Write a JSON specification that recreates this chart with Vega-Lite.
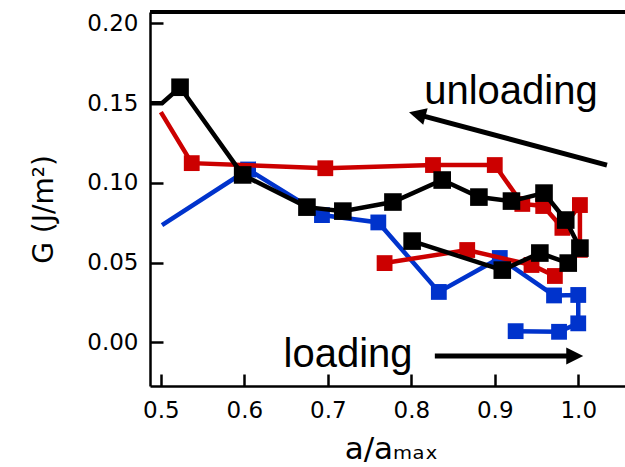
{
  "$schema": "https://vega.github.io/schema/vega-lite/v6.json",
  "width": 475,
  "height": 374,
  "autosize": {"type": "none"},
  "padding": {"left": 150, "top": 12, "right": 0, "bottom": 81},
  "background": "white",
  "config": {"view": {"stroke": null}, "font": "DejaVu Sans"},
  "datasets": {
    "curves": [
      {"s": "black", "i": 0, "x": 0.487, "y": 0.150},
      {"s": "black", "i": 1, "x": 0.5014, "y": 0.150},
      {"s": "black", "i": 2, "x": 0.523, "y": 0.160},
      {"s": "black", "i": 3, "x": 0.598, "y": 0.105},
      {"s": "black", "i": 4, "x": 0.675, "y": 0.0848},
      {"s": "black", "i": 5, "x": 0.718, "y": 0.0823},
      {"s": "black", "i": 6, "x": 0.778, "y": 0.088},
      {"s": "black", "i": 7, "x": 0.837, "y": 0.1018},
      {"s": "black", "i": 8, "x": 0.881, "y": 0.0911},
      {"s": "black", "i": 9, "x": 0.920, "y": 0.0886},
      {"s": "black", "i": 10, "x": 0.959, "y": 0.0936},
      {"s": "black", "i": 11, "x": 0.985, "y": 0.0767},
      {"s": "black", "i": 12, "x": 1.002, "y": 0.0591},
      {"s": "black", "i": 13, "x": 0.988, "y": 0.0497},
      {"s": "black", "i": 14, "x": 0.954, "y": 0.0560},
      {"s": "black", "i": 15, "x": 0.909, "y": 0.0453},
      {"s": "black", "i": 16, "x": 0.801, "y": 0.0635},
      {"s": "red", "i": 0, "x": 0.500, "y": 0.1444},
      {"s": "red", "i": 1, "x": 0.537, "y": 0.1124},
      {"s": "red", "i": 2, "x": 0.697, "y": 0.1092},
      {"s": "red", "i": 3, "x": 0.826, "y": 0.1112},
      {"s": "red", "i": 4, "x": 0.900, "y": 0.1112},
      {"s": "red", "i": 5, "x": 0.933, "y": 0.0868},
      {"s": "red", "i": 6, "x": 0.958, "y": 0.0855},
      {"s": "red", "i": 7, "x": 0.981, "y": 0.0718},
      {"s": "red", "i": 8, "x": 1.002, "y": 0.0861},
      {"s": "red", "i": 9, "x": 1.002, "y": 0.058},
      {"s": "red", "i": 10, "x": 0.972, "y": 0.0416},
      {"s": "red", "i": 11, "x": 0.944, "y": 0.0485},
      {"s": "red", "i": 12, "x": 0.867, "y": 0.0579},
      {"s": "red", "i": 13, "x": 0.768, "y": 0.0497},
      {"s": "blue", "i": 0, "x": 0.5014, "y": 0.0735},
      {"s": "blue", "i": 1, "x": 0.6045, "y": 0.1084},
      {"s": "blue", "i": 2, "x": 0.693, "y": 0.0798},
      {"s": "blue", "i": 3, "x": 0.7605, "y": 0.0752},
      {"s": "blue", "i": 4, "x": 0.833, "y": 0.0316},
      {"s": "blue", "i": 5, "x": 0.906, "y": 0.0529},
      {"s": "blue", "i": 6, "x": 0.971, "y": 0.0294},
      {"s": "blue", "i": 7, "x": 1.000, "y": 0.0297},
      {"s": "blue", "i": 8, "x": 1.000, "y": 0.0119},
      {"s": "blue", "i": 9, "x": 0.977, "y": 0.0066},
      {"s": "blue", "i": 10, "x": 0.925, "y": 0.0070}
    ],
    "arrows": [
      {"a": "unloading", "x": 0.8071, "y": 0.1430, "xt": 1.0344, "yt": 0.1112},
      {"a": "loading", "x": 0.9958, "y": -0.0086, "xt": 0.8282, "yt": -0.0086}
    ],
    "labels": [
      {"t": "unloading", "x": 0.9194, "y": 0.1492},
      {"t": "loading", "x": 0.7242, "y": -0.0153}
    ]
  },
  "encoding": {
    "x": {
      "field": "x", "type": "quantitative",
      "scale": {"domain": [0.487, 1.056], "nice": false, "zero": false},
      "axis": {
        "values": [0.5, 0.6, 0.7, 0.8, 0.9, 1.0], "format": ".1f",
        "grid": false, "tickSize": -12, "tickWidth": 2.5, "tickColor": "black",
        "domainWidth": 2.5, "domainColor": "black",
        "labelFontSize": 23, "labelColor": "black", "labelPadding": 25.6, "labelFlush": false,
        "labelFont": "DejaVu Sans",
        "title": "a/aₘₐₓ", "titleFont": "DejaVu Sans", "titleFontSize": 31, "titleFontWeight": "normal",
        "titleColor": "black", "titleBaseline": "alphabetic", "titleY": 72, "titleX": 241
      }
    },
    "y": {
      "field": "y", "type": "quantitative",
      "scale": {"domain": [-0.0274, 0.2072], "nice": false, "zero": false},
      "axis": {
        "values": [0, 0.05, 0.1, 0.15, 0.2], "format": ".2f",
        "grid": false, "tickSize": -13, "tickWidth": 2.5, "tickColor": "black",
        "domainWidth": 2.5, "domainColor": "black",
        "labelFontSize": 23, "labelColor": "black", "labelPadding": 25,
        "labelFont": "DejaVu Sans",
        "title": "G (J/m²)", "titleFont": "DejaVu Sans", "titleFontSize": 28, "titleFontWeight": "normal",
        "titleColor": "black", "titleBaseline": "alphabetic", "titleX": -98, "titleY": 197, "titleAngle": -90
      }
    }
  },
  "layer": [
    {
      "data": {"name": "curves"},
      "mark": {"type": "rule", "strokeWidth": 2.5, "color": "black"},
      "encoding": {
        "x": {"datum": 0.487, "type": "quantitative"},
        "x2": {"datum": 1.056},
        "y": {"datum": 0.2072, "type": "quantitative"}
      }
    },
    {
      "data": {"name": "curves"},
      "transform": [{"filter": "datum.s == 'blue'"}],
      "mark": {"type": "line", "color": "#0033cc", "strokeWidth": 4.5},
      "encoding": {"order": {"field": "i", "type": "quantitative"}}
    },
    {
      "data": {"name": "curves"},
      "transform": [{"filter": "datum.s == 'blue' && datum.i >= 1"}],
      "mark": {"type": "point", "shape": "square", "filled": true, "color": "#0033cc", "size": 250, "opacity": 1}
    },
    {
      "data": {"name": "curves"},
      "transform": [{"filter": "datum.s == 'red'"}],
      "mark": {"type": "line", "color": "#cc0000", "strokeWidth": 4.5},
      "encoding": {"order": {"field": "i", "type": "quantitative"}}
    },
    {
      "data": {"name": "curves"},
      "transform": [{"filter": "datum.s == 'red' && datum.i >= 1"}],
      "mark": {"type": "point", "shape": "square", "filled": true, "color": "#cc0000", "size": 250, "opacity": 1}
    },
    {
      "data": {"name": "curves"},
      "transform": [{"filter": "datum.s == 'black'"}],
      "mark": {"type": "line", "color": "black", "strokeWidth": 4.5},
      "encoding": {"order": {"field": "i", "type": "quantitative"}}
    },
    {
      "data": {"name": "curves"},
      "transform": [{"filter": "datum.s == 'black' && datum.i >= 2"}],
      "mark": {"type": "point", "shape": "square", "filled": true, "color": "black", "size": 310, "opacity": 1}
    },
    {
      "data": {"name": "arrows"},
      "mark": {"type": "rule", "strokeWidth": 5, "color": "black"},
      "encoding": {
        "x2": {"field": "xt"},
        "y2": {"field": "yt"}
      }
    },
    {
      "data": {"name": "arrows"},
      "transform": [{"filter": "datum.a == 'unloading'"}],
      "mark": {"type": "point", "shape": "M-1,0L1,-1L1,1Z", "filled": true, "color": "black", "size": 289, "angle": 15, "opacity": 1}
    },
    {
      "data": {"name": "arrows"},
      "transform": [{"filter": "datum.a == 'loading'"}],
      "mark": {"type": "point", "shape": "M-1,0L1,-1L1,1Z", "filled": true, "color": "black", "size": 289, "angle": 180, "opacity": 1}
    },
    {
      "data": {"name": "labels"},
      "mark": {"type": "text", "font": "Liberation Sans", "fontSize": 40, "color": "black", "align": "center", "baseline": "alphabetic"},
      "encoding": {"text": {"field": "t"}}
    }
  ]
}
